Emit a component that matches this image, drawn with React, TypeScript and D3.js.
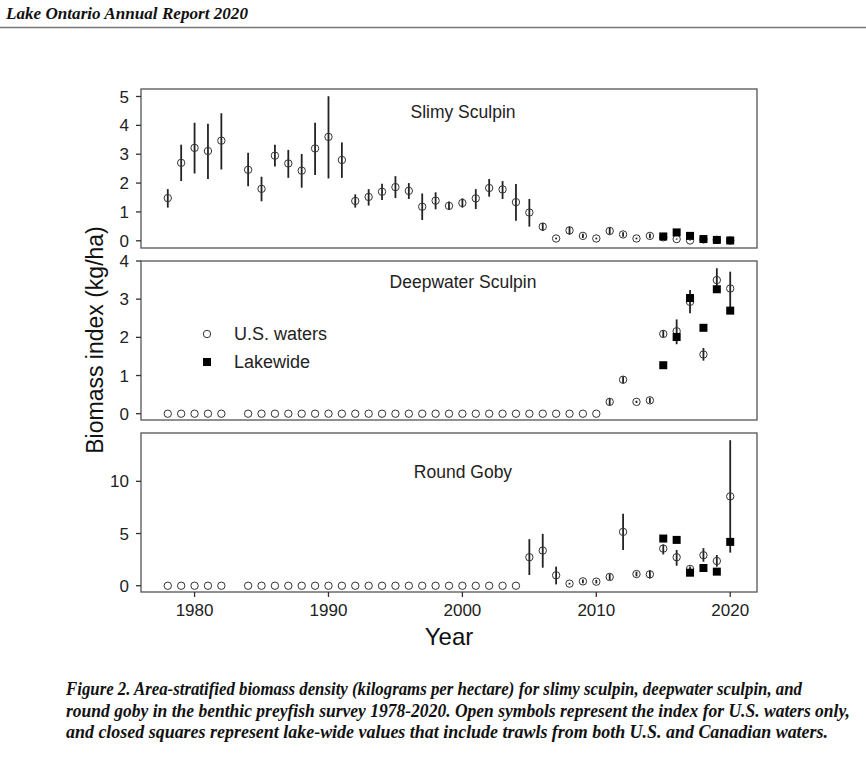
import React from "react";
import * as d3 from "d3";

// ---------- DATA ----------
const years = [1978, 1979, 1980, 1981, 1982, 1984, 1985, 1986, 1987, 1988, 1989, 1990, 1991, 1992, 1993, 1994, 1995, 1996, 1997, 1998, 1999, 2000, 2001, 2002, 2003, 2004, 2005, 2006, 2007, 2008, 2009, 2010, 2011, 2012, 2013, 2014, 2015, 2016, 2017, 2018, 2019, 2020];
const lakewideYears = [2015, 2016, 2017, 2018, 2019, 2020];

const slimyUS = [1.48, 2.70, 3.22, 3.11, 3.47, 2.46, 1.80, 2.95, 2.68, 2.43, 3.20, 3.60, 2.80, 1.38, 1.52, 1.70, 1.86, 1.73, 1.18, 1.39, 1.21, 1.31, 1.47, 1.83, 1.78, 1.34, 0.98, 0.49, 0.08, 0.36, 0.17, 0.08, 0.34, 0.22, 0.08, 0.17, 0.12, 0.06, 0.01, 0.05, 0.03, 0.01];
const slimyLo = [1.15, 2.07, 2.33, 2.14, 2.47, 1.89, 1.37, 2.57, 2.18, 1.84, 2.28, 2.16, 2.18, 1.15, 1.22, 1.41, 1.48, 1.45, 0.72, 1.09, 1.07, 1.15, 1.10, 1.53, 1.45, 0.69, 0.49, 0.34, 0.05, 0.21, 0.10, 0.05, 0.22, 0.14, 0.05, 0.09, 0.08, 0.04, 0.00, 0.03, 0.02, 0.00];
const slimyHi = [1.79, 3.33, 4.09, 4.06, 4.42, 3.05, 2.22, 3.33, 3.15, 3.01, 4.09, 5.01, 3.41, 1.61, 1.79, 1.98, 2.24, 2.00, 1.64, 1.68, 1.36, 1.47, 1.79, 2.14, 2.07, 1.97, 1.45, 0.62, 0.11, 0.49, 0.24, 0.11, 0.46, 0.30, 0.11, 0.25, 0.16, 0.08, 0.02, 0.07, 0.04, 0.02];
const slimyLake = [0.15, 0.29, 0.17, 0.06, 0.03, 0.01];

const deepUS = [0, 0, 0, 0, 0, 0, 0, 0, 0, 0, 0, 0, 0, 0, 0, 0, 0, 0, 0, 0, 0, 0, 0, 0, 0, 0, 0, 0, 0, 0, 0, 0, 0.31, 0.89, 0.31, 0.35, 2.09, 2.16, 2.93, 1.55, 3.50, 3.28];
const deepLo = [0, 0, 0, 0, 0, 0, 0, 0, 0, 0, 0, 0, 0, 0, 0, 0, 0, 0, 0, 0, 0, 0, 0, 0, 0, 0, 0, 0, 0, 0, 0, 0, 0.22, 0.80, 0.28, 0.28, 2.00, 1.82, 2.63, 1.39, 3.28, 2.77];
const deepHi = [0, 0, 0, 0, 0, 0, 0, 0, 0, 0, 0, 0, 0, 0, 0, 0, 0, 0, 0, 0, 0, 0, 0, 0, 0, 0, 0, 0, 0, 0, 0, 0, 0.40, 0.98, 0.34, 0.42, 2.18, 2.47, 3.24, 1.72, 3.81, 3.72];
const deepLake = [1.27, 2.01, 3.03, 2.25, 3.26, 2.70];

const gobyUS = [0, 0, 0, 0, 0, 0, 0, 0, 0, 0, 0, 0, 0, 0, 0, 0, 0, 0, 0, 0, 0, 0, 0, 0, 0, 0, 2.73, 3.37, 1.00, 0.20, 0.42, 0.39, 0.84, 5.16, 1.12, 1.09, 3.56, 2.73, 1.61, 2.92, 2.37, 8.56];
const gobyLo = [0, 0, 0, 0, 0, 0, 0, 0, 0, 0, 0, 0, 0, 0, 0, 0, 0, 0, 0, 0, 0, 0, 0, 0, 0, 0, 1.03, 1.73, 0.13, 0.12, 0.25, 0.22, 0.55, 3.43, 0.90, 0.70, 3.00, 1.92, 1.35, 2.30, 1.83, 3.17];
const gobyHi = [0, 0, 0, 0, 0, 0, 0, 0, 0, 0, 0, 0, 0, 0, 0, 0, 0, 0, 0, 0, 0, 0, 0, 0, 0, 0, 4.46, 4.97, 1.83, 0.28, 0.59, 0.56, 1.13, 6.90, 1.34, 1.48, 3.95, 3.43, 1.85, 3.60, 2.95, 13.94];
const gobyLake = [4.52, 4.39, 1.25, 1.70, 1.35, 4.20];

const speciesNames = ["Slimy Sculpin", "Deepwater Sculpin", "Round Goby"];
const slimyTicks = [0, 1, 2, 3, 4, 5];
const deepTicks = [0, 1, 2, 3, 4];
const gobyTicks = [0, 5, 10];
const xTicks = [1980, 1990, 2000, 2010, 2020];
const legendLabels = ["U.S. waters", "Lakewide"];

const headerText = "Lake Ontario Annual Report 2020";
const captionLines = [
  "Figure 2. Area-stratified biomass density (kilograms per hectare) for slimy sculpin, deepwater sculpin, and",
  "round goby in the benthic preyfish survey 1978-2020. Open symbols represent the index for U.S. waters only,",
  "and closed squares represent lake-wide values that include trawls from both U.S. and Canadian waters.",
];

// ---------- LAYOUT ----------
const W = 866;
const H = 768;
const left = 141;
const right = 757;
const SANS = "Liberation Sans, Arial, Helvetica, sans-serif";
const SERIF = "Liberation Serif, Times New Roman, serif";

const panels = [
  { name: speciesNames[0], top: 89, bottom: 248, domain: [-0.25, 5.26], ticks: slimyTicks, us: slimyUS, lo: slimyLo, hi: slimyHi, lake: slimyLake, labelY: 118 },
  { name: speciesNames[1], top: 261, bottom: 420, domain: [-0.165, 4.0], ticks: deepTicks, us: deepUS, lo: deepLo, hi: deepHi, lake: deepLake, labelY: 288 },
  { name: speciesNames[2], top: 433, bottom: 592, domain: [-0.6, 14.63], ticks: gobyTicks, us: gobyUS, lo: gobyLo, hi: gobyHi, lake: gobyLake, labelY: 478 },
];

export default function App() {
  const x = d3.scaleLinear().domain([1976, 2022]).range([left, right]);
  const sq = 8;
  const r = 3.7;

  return (
    <svg width={W} height={H} style={{ position: "absolute", left: 0, top: 0, background: "#fff" }}>
      <rect x={0} y={0} width={W} height={H} fill="#fff" />
      {/* header */}
      <text x={6} y={19} fontFamily={SERIF} fontWeight="bold" fontStyle="italic" fontSize={17.5} textLength={242} lengthAdjust="spacingAndGlyphs" fill="#111">
        {headerText}
      </text>
      <line x1={0} x2={W} y1={27.5} y2={27.5} stroke="#777" strokeWidth={1.5} />

      {panels.map((p, pi) => {
        const y = d3.scaleLinear().domain(p.domain).range([p.bottom, p.top]);
        return (
          <g key={pi}>
            {years.map((yr, i) => (
              <line key={"e" + i} x1={x(yr)} x2={x(yr)} y1={y(p.lo[i])} y2={y(p.hi[i])} stroke="#222" strokeWidth={1.8} />
            ))}
            {years.map((yr, i) => (
              <circle key={"c" + i} cx={x(yr)} cy={y(p.us[i])} r={r} fill="none" stroke="#333" strokeWidth={1} />
            ))}
            {lakewideYears.map((yr, i) => (
              <rect key={"s" + i} x={x(yr) - sq / 2} y={y(p.lake[i]) - sq / 2} width={sq} height={sq} fill="#000" />
            ))}
            <rect x={left} y={p.top} width={right - left} height={p.bottom - p.top} fill="none" stroke="#555" strokeWidth={1.3} />
            {p.ticks.map((t) => (
              <g key={"t" + t}>
                <line x1={left - 5} x2={left} y1={y(t)} y2={y(t)} stroke="#333" strokeWidth={1.3} />
                <text x={left - 12} y={y(t)} dy="0.36em" textAnchor="end" fontFamily={SANS} fontSize={17} fill="#222">
                  {t}
                </text>
              </g>
            ))}
            <text x={463} y={p.labelY} textAnchor="middle" fontFamily={SANS} fontSize={17.5} fill="#222">
              {p.name}
            </text>
          </g>
        );
      })}

      {xTicks.map((t) => (
        <g key={"x" + t}>
          <line x1={x(t)} x2={x(t)} y1={592} y2={597} stroke="#333" strokeWidth={1.3} />
          <text x={x(t)} y={616} textAnchor="middle" fontFamily={SANS} fontSize={17} fill="#222">
            {t}
          </text>
        </g>
      ))}
      <text x={449} y={645} textAnchor="middle" fontFamily={SANS} fontSize={24} fill="#111">
        Year
      </text>
      <text transform={`translate(103,340) rotate(-90)`} textAnchor="middle" fontFamily={SANS} fontSize={23} fill="#111">
        Biomass index (kg/ha)
      </text>

      {/* legend */}
      <circle cx={207} cy={334} r={r} fill="none" stroke="#333" strokeWidth={1} />
      <text x={234} y={340} fontFamily={SANS} fontSize={18} fill="#222">{legendLabels[0]}</text>
      <rect x={207 - sq / 2} y={362 - sq / 2} width={sq} height={sq} fill="#000" />
      <text x={234} y={368} fontFamily={SANS} fontSize={18} fill="#222">{legendLabels[1]}</text>

      {/* caption */}
      {captionLines.map((c, i) => (
        <text key={"cap" + i} transform={`translate(66,${695 + i * 21.5}) scale(1,1.2)`} x={0} y={0} fontFamily={SERIF} fontWeight="bold" fontStyle="italic" fontSize={15} textLength={[736, 784, 762][i]} lengthAdjust="spacingAndGlyphs" fill="#111">
          {c}
        </text>
      ))}
    </svg>
  );
}
